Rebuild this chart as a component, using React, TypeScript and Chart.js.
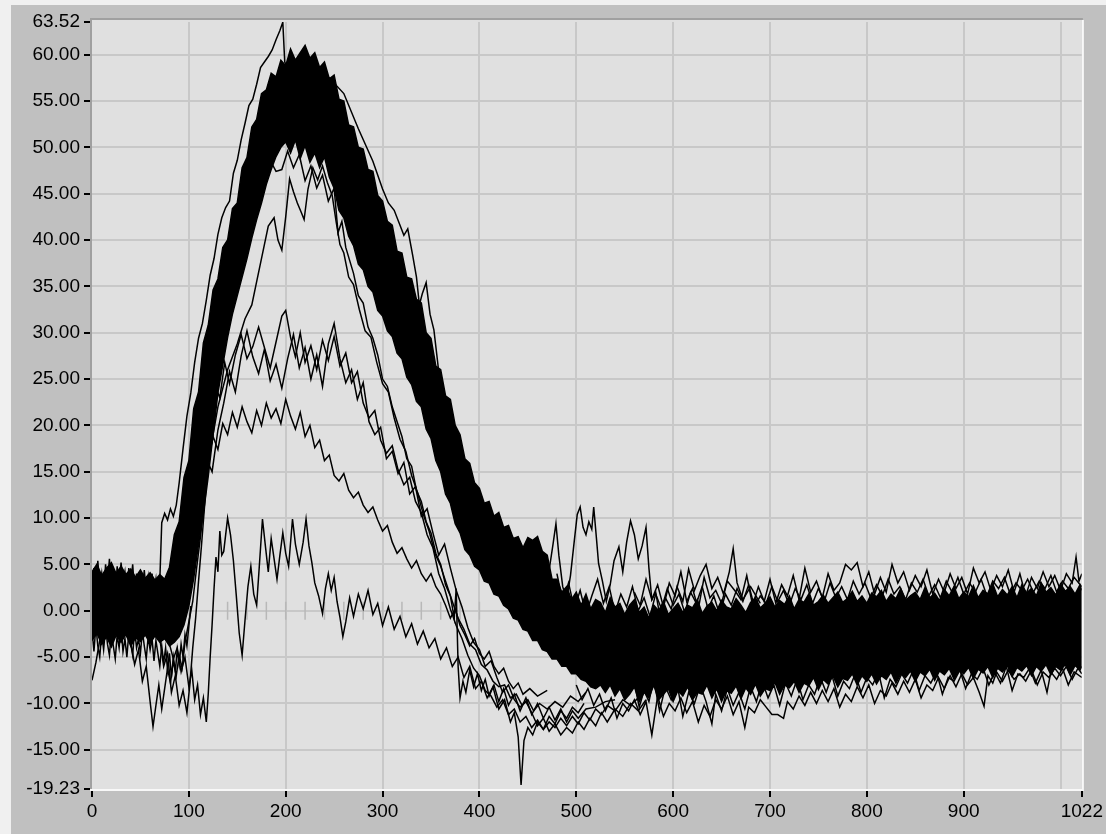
import { useEffect, useRef } from 'react';
import { Chart, registerables } from 'chart.js';

Chart.register(...registerables);

// ---------- axis ticks ----------
const xTickValues = [0, 100, 200, 300, 400, 500, 600, 700, 800, 900, 1000, 1022];
const yTickValues = [-19.23, -15, -10, -5, 0, 5, 10, 15, 20, 25, 30, 35, 40, 45, 50, 55, 60, 63.52];

// ---------- dense bundle of waveforms (upper / lower edge of the black mass) ----------
const bandX = [
  0, 5, 10, 15, 20, 25, 30, 35, 40, 45, 50, 55, 60, 65, 70, 75, 80, 85, 90, 95,
  100, 105, 110, 115, 120, 125, 130, 135, 140, 145, 150, 155, 160, 165, 170, 175, 180, 185, 190, 195,
  200, 205, 210, 215, 220, 225, 230, 235, 240, 245, 250, 255, 260, 265, 270, 275, 280, 285, 290, 295,
  300, 305, 310, 315, 320, 325, 330, 335, 340, 345, 350, 355, 360, 365, 370, 375, 380, 385, 390, 395,
  400, 405, 410, 415, 420, 425, 430, 435, 440, 445, 450, 455, 460, 465, 470, 475, 480, 485, 490, 495,
  500, 505, 510, 515, 520, 525, 530, 535, 540, 545, 550, 555, 560, 565, 570, 575, 580, 585, 590, 595,
  600, 605, 610, 615, 620, 625, 630, 635, 640, 645, 650, 655, 660, 665, 670, 675, 680, 685, 690, 695,
  700, 705, 710, 715, 720, 725, 730, 735, 740, 745, 750, 755, 760, 765, 770, 775, 780, 785, 790, 795,
  800, 805, 810, 815, 820, 825, 830, 835, 840, 845, 850, 855, 860, 865, 870, 875, 880, 885, 890, 895,
  900, 905, 910, 915, 920, 925, 930, 935, 940, 945, 950, 955, 960, 965, 970, 975, 980, 985, 990, 995,
  1000, 1005, 1010, 1015, 1020, 1022,
];
const bandHigh = [
  4.2, 5.0, 3.8, 4.6, 5.2, 4.0, 4.8, 3.9, 4.5, 3.6, 4.4, 3.5, 4.1, 3.3, 3.9, 3.4, 4.7, 8.2, 9.6, 14.4,
  16.2, 21.8, 23.6, 28.9, 30.8, 34.6, 35.8, 39.2, 40.0, 43.4, 44.0, 47.8, 48.9, 52.2, 53.0, 55.8, 56.2, 58.0, 57.6, 59.4,
  58.8, 60.6, 59.4, 60.2, 61.0, 59.6, 60.2, 58.6, 59.2, 57.4, 57.8, 55.2, 55.0, 52.4, 52.2, 50.0, 49.8, 47.6, 47.4, 44.8,
  44.2, 42.0, 41.6, 38.8, 38.6, 36.0, 35.8, 33.6, 33.2, 30.0, 29.4, 26.4, 26.0, 23.2, 22.8, 20.0, 19.0, 16.4, 15.9, 13.8,
  13.2, 11.6, 11.8, 10.2, 10.6, 9.0, 9.2, 7.8, 8.0, 6.8, 7.9, 7.6, 8.0, 6.4, 6.0, 3.4, 3.4, 2.0, 2.6, 1.2,
  2.0, 0.6, 1.8, 0.2, 1.2, 0.9, -0.2, 1.4, 0.4, 0.8, -0.4, 0.6, 1.2, -0.2, 0.4, -0.8, 0.6, 0.0, 1.0, -0.4,
  0.2, 0.8, -0.2, 0.6, 0.3, 1.2, -0.3, 0.5, 0.9, 0.0, 1.1, 0.4, 0.2, 1.3, 0.6, -0.2, 0.9, 1.4, 0.3, 0.8,
  1.5, 0.4, 1.1, 0.7, 1.6, 0.2, 1.2, 0.9, 1.8, 0.6, 1.0, 1.7, 0.8, 1.4, 2.0, 0.9, 1.3, 2.1, 1.0, 1.6,
  0.8, 1.9, 1.5, 2.2, 1.0, 1.8, 1.3, 2.4, 1.1, 1.6, 2.0, 1.2, 2.5, 1.4, 1.9, 1.1, 2.3, 1.6, 2.6, 1.3,
  2.0, 1.5, 2.7, 1.4, 2.2, 1.8, 2.9, 1.5, 2.3, 1.7, 2.6, 1.4, 2.8, 1.9, 2.4, 1.6, 3.0, 2.0, 2.5, 1.7,
  2.9, 2.1, 2.6, 1.8, 2.8, 2.2,
];
const bandLow = [
  -3.2, -2.4, -3.6, -2.8, -3.9, -2.6, -3.4, -2.5, -3.8, -2.9, -3.3, -2.6, -3.5, -2.7, -3.4, -3.0, -3.8, -3.4, -2.8, -1.5,
  0.5, 3.5, 7.2, 10.5, 14.5, 19.0, 23.5, 26.5, 29.5, 32.0, 34.0, 36.0, 38.0, 40.2, 42.2, 44.0, 46.0, 47.6, 49.0, 50.0,
  50.6, 49.4, 50.8, 48.8, 50.2, 48.4, 49.4, 47.8, 49.0, 46.8, 45.6, 43.2, 42.4, 40.4, 39.4, 37.4, 36.8, 35.0, 34.4, 32.4,
  31.8, 30.2, 29.6, 27.8, 27.2, 25.2, 24.4, 22.6, 22.0, 19.6, 18.6, 16.2, 15.0, 12.6, 11.6, 9.4, 8.4, 6.6, 6.0, 4.8,
  4.4, 3.2, 3.0, 1.8, 1.6, 0.6, 0.2, -0.8, -1.0, -2.0, -2.2, -3.2, -3.2, -4.2, -4.4, -5.2, -5.2, -6.0, -6.0, -6.8,
  -6.8, -7.4, -7.6, -8.2, -8.4, -8.0, -8.8, -8.0, -9.2, -8.4, -9.6, -9.0, -8.2, -9.8, -8.8, -9.4, -8.0, -9.6, -9.0, -8.4,
  -9.8, -8.6, -9.2, -8.2, -9.6, -8.8, -9.0, -8.0, -9.4, -8.4, -9.8, -8.6, -8.9, -8.1, -9.5, -8.3, -9.0, -7.9, -9.2, -8.4,
  -8.6, -7.7, -9.0, -8.0, -8.3, -7.6, -8.8, -7.8, -8.1, -7.2, -8.5, -7.4, -7.9, -7.0, -8.2, -7.3, -7.5, -6.8, -8.0, -7.0,
  -7.6, -6.8, -7.9, -7.0, -7.4, -6.6, -7.8, -6.8, -7.2, -6.5, -7.6, -6.6, -7.0, -6.3, -7.5, -6.5, -6.9, -6.2, -7.4, -6.4,
  -6.8, -6.1, -7.3, -6.3, -6.7, -6.0, -7.2, -6.2, -6.6, -5.9, -7.1, -6.1, -6.5, -5.9, -7.0, -6.0, -6.5, -5.8, -6.9, -6.0,
  -6.4, -5.8, -6.9, -5.9, -6.4, -6.0,
];

// ---------- individual traces that leave the bundle ----------
const traceEarlySpike = [
  [0, 1.5], [5, 3.2], [10, 0.8], [15, 2.5], [20, -0.5], [25, 1.8], [30, 0.4], [35, 2.6], [40, -0.8], [45, 1.2],
  [50, 0.0], [55, 2.2], [60, 0.6], [65, 1.4], [70, 3.2], [72, 9.5], [75, 10.5], [78, 9.8], [81, 11.0], [84, 10.2],
  [87, 11.4], [90, 13.8], [94, 17.5], [98, 21.0], [102, 23.5], [106, 26.8], [110, 29.4], [114, 31.0], [118, 33.5],
  [122, 36.2], [126, 38.0], [130, 40.6], [134, 42.4], [138, 43.5], [142, 44.2], [146, 47.2], [150, 48.6], [154, 50.8],
  [158, 52.6], [162, 54.5], [166, 55.2], [170, 56.8], [174, 58.6], [178, 59.2], [182, 59.8], [186, 60.5], [190, 61.6],
  [194, 62.6], [197, 63.5], [199, 59.2], [203, 58.4], [215, 59.0], [230, 58.0], [245, 57.5], [260, 55.8], [275, 52.0],
  [290, 48.5], [300, 45.5], [306, 44.0], [312, 43.2], [318, 41.6], [322, 40.5], [326, 41.2], [331, 38.4], [335, 36.0],
  [338, 33.0], [341, 34.2], [345, 35.4], [349, 32.0], [353, 30.3], [356, 27.6], [359, 24.9], [363, 23.0], [366, 22.0],
  [369, 20.6], [373, 19.4], [377, 17.6], [380, 18.2], [384, 15.8], [388, 14.4], [392, 13.0], [400, 11.0],
];
const tracePeak46 = [
  [90, -2.0], [100, 3.0], [110, 9.0], [120, 16.0], [130, 22.0], [140, 26.0], [150, 28.8], [158, 31.5], [165, 33.0],
  [170, 35.5], [176, 38.5], [182, 41.5], [188, 42.4], [192, 40.0], [196, 38.9], [200, 42.5], [204, 46.6], [208, 45.2],
  [212, 44.0], [216, 43.0], [219, 42.2], [223, 45.5], [228, 47.8], [233, 46.5], [238, 48.0], [243, 46.2], [248, 44.8],
  [252, 42.0], [256, 39.5], [260, 38.6], [265, 36.0], [270, 35.2], [276, 32.5], [282, 30.2], [288, 29.5], [294, 26.8],
  [300, 24.5], [306, 23.6], [312, 20.8], [318, 18.5], [324, 17.2], [330, 14.6], [336, 12.8], [342, 10.4], [348, 8.6],
  [354, 6.2], [360, 4.8], [366, 2.9], [372, 1.0], [378, -0.8], [384, -2.0], [390, -3.6], [396, -4.2], [402, -5.8],
  [408, -6.4], [414, -7.6], [420, -8.2], [426, -8.0], [432, -9.4], [438, -9.0], [444, -10.2], [450, -9.6], [456, -10.8],
  [462, -10.0], [470, -10.6], [478, -9.8], [486, -10.4], [494, -9.2], [502, -9.8], [510, -8.8],
];
const traceInnerFall = [
  [180, 47.0], [186, 48.2], [190, 47.4], [196, 47.6], [202, 49.6], [208, 47.8], [214, 49.2], [220, 46.4], [226, 48.0],
  [232, 45.6], [238, 47.0], [244, 44.2], [250, 45.6], [254, 40.8], [258, 42.0], [262, 39.2], [266, 37.8], [270, 36.4],
  [275, 34.0], [280, 33.2], [285, 30.6], [290, 29.4], [295, 27.6], [300, 25.0], [305, 24.2], [310, 22.0], [315, 20.4],
  [320, 18.8], [325, 16.4], [330, 15.6], [335, 13.0], [340, 11.8], [345, 9.6], [350, 8.4], [355, 6.2], [360, 5.0],
  [365, 2.8], [370, 1.6], [374, -0.8], [376, 2.4], [378, -6.0], [380, -9.4], [383, -7.6], [386, -8.8], [390, -6.4],
  [394, -8.2], [398, -6.8], [402, -8.6], [406, -7.4], [410, -9.2], [415, -8.0], [420, -9.8], [425, -8.4], [430, -10.2],
  [436, -9.0], [442, -10.8], [448, -9.4], [454, -11.2], [460, -10.0], [466, -11.6], [472, -10.4], [478, -11.8],
  [484, -10.6], [490, -12.0], [496, -10.8], [502, -11.6], [510, -10.6], [520, -10.4], [530, -9.8], [540, -9.6],
];
const tracePeak32a = [
  [105, 10.0], [110, 14.0], [115, 17.5], [120, 21.0], [126, 24.5], [132, 23.0], [137, 26.8], [142, 24.5], [148, 27.6],
  [154, 29.8], [160, 27.2], [166, 28.5], [172, 30.6], [178, 28.4], [184, 26.2], [190, 29.0], [196, 31.8], [200, 32.4],
  [205, 29.5], [210, 27.4], [215, 30.0], [220, 26.8], [226, 28.6], [232, 26.0], [238, 29.2], [244, 27.0], [250, 29.6],
  [256, 26.4], [262, 27.8], [268, 24.6], [274, 25.8], [280, 22.4], [286, 20.8], [292, 21.6], [298, 18.4], [304, 17.0],
  [310, 17.8], [316, 15.2], [322, 13.6], [328, 14.4], [334, 11.8], [340, 10.6], [346, 8.2], [352, 6.8], [358, 4.0],
  [364, 2.4], [370, 0.2], [376, -1.6], [382, -3.0], [388, -4.8], [394, -6.2], [400, -7.0], [406, -8.6], [412, -9.2],
  [418, -10.4], [424, -9.6], [430, -11.2], [436, -10.6], [442, -12.0], [448, -11.4], [454, -12.6], [460, -11.8],
  [466, -12.8], [472, -12.0], [478, -12.6], [484, -11.6], [490, -12.4], [496, -11.4], [502, -12.2], [508, -11.0],
  [514, -11.8], [520, -10.6], [526, -11.2], [532, -10.2], [540, -10.8], [548, -9.6], [556, -10.2], [564, -9.4],
];
const tracePeak32b = [
  [105, 6.0], [112, 12.0], [118, 16.4], [124, 15.0], [130, 19.5], [136, 22.4], [142, 25.8], [148, 23.6], [154, 27.5],
  [160, 30.2], [166, 27.4], [172, 25.6], [178, 28.2], [184, 24.8], [190, 26.6], [196, 24.0], [202, 27.2], [208, 29.8],
  [214, 26.2], [220, 28.4], [226, 25.0], [232, 27.6], [238, 24.2], [244, 28.8], [250, 31.0], [256, 27.2], [262, 24.6],
  [268, 26.0], [274, 22.8], [280, 24.6], [286, 20.4], [292, 19.0], [298, 19.8], [304, 16.4], [310, 17.2], [316, 14.8],
  [322, 16.0], [328, 12.6], [334, 13.4], [340, 10.2], [346, 11.0], [352, 8.4], [358, 6.0], [364, 7.2], [370, 4.6],
  [376, 2.2], [382, 0.4], [388, -1.8], [394, -3.4], [400, -4.2], [406, -6.0], [412, -5.4], [418, -7.2], [424, -8.8],
  [430, -8.0], [436, -9.6], [442, -10.4], [448, -9.8], [454, -11.0], [460, -12.4], [466, -11.6], [472, -13.0],
  [478, -12.2], [484, -13.4], [490, -12.6], [496, -13.2], [502, -12.0], [508, -12.8], [514, -11.6], [520, -12.4],
  [526, -11.0], [532, -12.0], [540, -10.6], [548, -11.4], [556, -10.0], [564, -10.8], [572, -9.6],
];
const tracePeak22 = [
  [70, -3.0], [74, -6.0], [78, -4.6], [82, -8.8], [86, -7.0], [90, -10.2], [94, -8.6], [98, -11.0], [101, -8.0],
  [104, -4.0], [107, -0.8], [110, 3.2], [113, 7.0], [116, 11.0], [120, 16.2], [125, 18.8], [130, 17.4], [135, 20.2],
  [140, 19.0], [145, 21.4], [150, 19.8], [155, 22.0], [160, 20.4], [165, 19.2], [170, 21.6], [175, 20.0], [180, 22.4],
  [185, 20.8], [190, 21.8], [195, 20.2], [200, 22.8], [205, 21.0], [210, 19.6], [215, 21.4], [220, 18.8], [225, 20.0],
  [230, 17.6], [235, 18.4], [240, 16.2], [245, 16.8], [250, 14.6], [255, 14.0], [260, 14.8], [265, 13.0], [270, 12.2],
  [275, 12.8], [280, 11.4], [285, 10.6], [290, 11.2], [295, 9.8], [300, 8.6], [305, 9.2], [310, 7.4], [315, 6.2],
  [320, 6.8], [325, 5.6], [330, 4.6], [335, 5.4], [340, 4.0], [345, 3.2], [350, 4.0], [355, 2.6], [360, 1.8],
  [365, 0.6], [370, -0.8], [375, 0.2], [380, -1.6], [385, -2.6], [390, -3.8], [395, -3.0], [400, -4.6], [405, -5.2],
  [410, -4.4], [415, -6.0], [420, -6.8], [425, -6.2], [430, -7.6], [435, -8.4], [440, -7.8], [445, -9.0], [452, -8.4],
  [460, -9.2], [470, -8.6],
];
const traceLow = [
  [80, -3.6], [84, -5.2], [88, -4.0], [92, -6.6], [96, -5.0], [100, -8.2], [103, -6.4], [106, -9.6], [109, -8.0],
  [112, -11.2], [115, -9.4], [118, -12.0], [120, -9.0], [122, -5.0], [124, -1.5], [126, 2.4], [128, 5.8], [130, 4.2],
  [132, 8.6], [134, 6.0], [136, 6.4], [140, 10.0], [143, 8.2], [146, 5.4], [149, 1.6], [152, -2.4], [155, -4.8],
  [158, -1.0], [161, 2.6], [164, 4.8], [167, 1.8], [170, 0.6], [173, 5.2], [176, 9.9], [179, 7.0], [182, 4.2],
  [185, 7.8], [188, 5.6], [191, 3.4], [194, 6.0], [197, 8.4], [200, 6.2], [203, 4.8], [207, 9.9], [210, 7.2],
  [214, 5.0], [218, 7.4], [221, 9.9], [224, 7.0], [227, 5.2], [230, 3.0], [234, 1.6], [238, -0.3], [241, 2.4],
  [244, 4.0], [247, 2.2], [250, 3.6], [253, 1.0], [256, -0.7], [259, -2.8], [262, -1.2], [266, 1.4], [270, -0.6],
  [275, 1.8], [280, 0.2], [285, 2.2], [290, -0.4], [295, 0.8], [300, -1.6], [306, 0.4], [312, -2.0], [318, -0.6],
  [324, -2.8], [330, -1.4], [336, -3.6], [342, -2.2], [348, -4.0], [354, -3.0], [360, -5.2], [366, -4.0], [372, -6.0],
  [378, -5.0], [384, -7.2], [390, -6.0], [396, -8.4], [402, -7.6], [408, -9.4], [414, -8.2], [420, -10.6], [426, -9.6],
  [432, -12.0], [436, -11.0], [440, -13.6], [443, -18.8], [446, -14.0], [450, -12.6], [455, -13.4], [460, -12.0],
  [466, -12.8], [472, -11.4], [478, -12.2], [484, -10.8], [490, -11.6], [496, -10.4], [502, -11.0], [508, -10.0],
];
const traceEarlyDip = [
  [0, -7.5], [4, -5.6], [8, -3.2], [12, -1.0], [20, -2.4], [30, -1.8], [40, -3.4], [44, -5.8], [48, -4.2], [52, -7.6],
  [56, -6.0], [60, -9.8], [63, -12.5], [66, -10.2], [69, -8.0], [72, -10.6], [75, -8.4], [78, -6.2], [81, -7.8],
  [84, -5.4], [87, -7.0], [90, -4.8], [93, -6.2], [96, -3.4], [100, -1.2], [104, 1.0], [108, 4.6], [112, 8.0],
  [116, 12.0], [120, 16.0],
];
const traceAfterBump = [
  [440, 4.0], [446, 1.8], [452, 3.6], [458, 6.0], [463, 3.2], [468, 0.8], [472, 4.4], [476, 7.2], [479, 9.4],
  [482, 6.0], [486, 2.6], [490, 1.2], [494, 3.8], [498, 7.6], [501, 10.4], [504, 11.2], [507, 9.0], [510, 8.2],
  [513, 9.6], [516, 8.8], [518, 11.2], [521, 7.6], [523, 5.1], [527, 3.2], [531, 1.0], [535, 2.8], [539, 5.4],
  [544, 6.9], [548, 4.2], [552, 7.4], [556, 9.7], [560, 8.2], [564, 5.6], [568, 7.0], [572, 9.0], [575, 4.6],
  [578, 1.2], [582, 2.0], [586, -0.4], [592, 1.4], [598, 0.2], [604, 2.6], [610, 1.0], [616, 4.5], [622, 2.2],
  [628, 3.8], [634, 5.0], [640, 2.4], [646, 3.6], [652, 1.8], [658, 4.2], [662, 6.7], [666, 3.0], [672, 1.2],
  [680, 2.6], [690, 0.8],
];
const traceTailHighA = [
  [560, 2.0], [566, 0.6], [572, 3.4], [578, 1.2], [584, 2.8], [590, 0.4], [596, 3.0], [602, 1.6], [608, 4.2],
  [614, 1.0], [620, 2.4], [626, 0.2], [632, 3.6], [638, 1.4], [644, 2.2], [650, 0.8], [656, 3.2], [662, 2.4],
  [665, 2.0], [670, 1.2], [676, 3.8], [682, 0.6], [688, 2.6], [694, 1.0], [700, 3.4], [706, 0.8], [712, 2.8],
  [718, 1.6], [724, 3.8], [730, 1.2], [736, 4.6], [742, 2.0], [748, 3.2], [754, 1.4], [760, 4.0], [766, 2.2],
  [772, 3.0], [778, 5.0], [784, 4.4], [790, 5.2], [796, 2.6], [802, 4.2], [808, 1.8], [814, 3.6], [820, 2.0],
  [826, 5.0], [832, 3.0], [838, 4.2], [844, 2.2], [850, 3.8], [856, 2.6], [862, 4.4], [868, 1.8], [874, 3.4],
  [880, 2.0], [886, 4.0], [892, 2.4], [898, 3.6], [904, 1.8], [910, 4.6], [916, 3.0], [922, 4.2], [928, 2.2],
  [934, 3.8], [940, 2.6], [946, 4.4], [952, 2.0], [958, 4.0], [964, 1.6], [970, 3.6], [976, 2.4], [982, 4.2],
  [988, 2.6], [994, 3.8], [1000, 2.2], [1006, 4.0], [1012, 3.0], [1016, 5.8], [1019, 3.2], [1022, 4.0],
];
const traceTailHighB = [
  [480, 4.0], [486, 1.0], [492, 3.0], [498, 0.2], [504, 2.2], [510, -0.4], [516, 1.6], [522, 3.4], [528, 0.8],
  [534, 2.6], [540, -0.2], [546, 1.8], [552, 0.4], [558, 2.6], [564, 0.0], [570, 1.4], [576, -0.6], [582, 1.8],
  [588, 0.2], [594, 2.4], [600, 0.6], [606, 1.8], [612, -0.2], [618, 2.0], [624, 0.8], [630, 2.6], [636, 0.2],
  [642, 1.6], [648, -0.4], [654, 1.8], [660, 0.6], [666, 2.4], [672, 1.0], [678, 2.8], [684, 0.4], [690, 1.6],
  [696, 0.8], [702, 2.6], [708, 1.0], [714, 2.2], [720, 0.6], [726, 2.4], [732, 1.2], [738, 2.8], [744, 0.8],
  [750, 2.4], [756, 1.0], [762, 3.0], [768, 1.4], [774, 2.6], [780, 1.2], [786, 3.2], [792, 1.8], [798, 3.0],
  [804, 1.4], [810, 2.8], [816, 1.6], [822, 3.4], [828, 1.8], [834, 2.6], [840, 1.2], [846, 3.0], [852, 2.0],
  [858, 3.4], [864, 1.6], [870, 2.8], [876, 1.4], [882, 3.2], [888, 2.0], [894, 3.6], [900, 1.8], [906, 3.0],
  [912, 2.0], [918, 3.4], [924, 1.6], [930, 3.2], [936, 2.4], [942, 3.6], [948, 1.8], [954, 3.0], [960, 2.2],
  [966, 3.4], [972, 2.0], [978, 3.2], [984, 2.4], [990, 3.8], [996, 2.0], [1002, 3.2], [1008, 2.4], [1014, 3.6],
  [1022, 2.6],
];
const traceTailLow = [
  [500, -8.0], [506, -9.6], [512, -8.4], [518, -10.2], [524, -9.0], [530, -10.8], [536, -9.4], [542, -11.6],
  [548, -10.0], [554, -10.8], [560, -9.6], [566, -11.2], [572, -9.8], [578, -13.4], [584, -9.2], [590, -11.4],
  [596, -10.0], [602, -10.8], [608, -9.4], [614, -11.0], [620, -9.8], [626, -12.0], [632, -10.2], [638, -11.4],
  [644, -9.6], [650, -10.6], [656, -9.2], [662, -11.2], [668, -9.8], [674, -12.6], [678, -10.4], [684, -11.0],
  [690, -9.6], [696, -10.4], [702, -11.2], [708, -11.2], [714, -11.6], [718, -9.8], [724, -10.6], [730, -9.2],
  [736, -10.2], [742, -8.8], [748, -10.0], [754, -8.6], [760, -9.8], [766, -8.4], [772, -10.4], [778, -9.0],
  [784, -9.8], [790, -8.2], [796, -9.4], [802, -8.0], [808, -10.0], [814, -8.6], [820, -9.2], [826, -7.8],
  [832, -9.0], [838, -7.6], [844, -8.8], [850, -7.4], [856, -9.4], [862, -8.0], [868, -8.6], [874, -7.2],
  [880, -8.4], [886, -7.0], [892, -8.2], [898, -6.8], [904, -8.0], [910, -7.2], [916, -8.8], [921, -10.3],
  [925, -7.0], [930, -7.8], [934, -6.6], [940, -7.6], [946, -6.4], [952, -7.4], [958, -6.8], [964, -7.6],
  [970, -6.4], [976, -8.0], [982, -6.6], [988, -7.2], [994, -6.2], [1000, -7.0], [1006, -6.0], [1012, -7.4],
  [1018, -6.2], [1022, -6.8],
];
const traceTailLowB = [
  [560, -7.8], [565, -10.4], [570, -8.6], [575, -9.8], [580, -7.4], [586, -10.8], [592, -8.2], [598, -9.6],
  [604, -7.8], [610, -11.4], [616, -8.8], [622, -10.0], [628, -8.0], [634, -9.8], [640, -12.2], [644, -9.0],
  [650, -10.8], [656, -8.4], [662, -10.2], [668, -8.8], [674, -10.6], [680, -8.2], [686, -9.8], [692, -7.6],
  [698, -9.4], [704, -8.0], [710, -10.2], [716, -7.8], [722, -9.2], [728, -7.4], [734, -9.6], [740, -8.0],
  [746, -9.0], [752, -7.2], [758, -8.8], [764, -7.0], [770, -9.2], [776, -7.6], [782, -8.4], [788, -6.8],
  [794, -8.8], [800, -7.2], [806, -8.0], [812, -6.6], [818, -9.4], [824, -7.4], [830, -8.2], [836, -6.8],
  [842, -7.8], [848, -6.4], [854, -8.6], [860, -7.0], [866, -7.8], [872, -6.6], [878, -9.0], [884, -7.2],
  [890, -7.6], [896, -6.4], [902, -8.4], [908, -6.8], [914, -7.4], [920, -6.2], [926, -8.0], [932, -6.6],
  [938, -7.8], [944, -6.0], [950, -8.6], [956, -6.8], [962, -7.2], [968, -6.2], [974, -7.8], [980, -6.4],
  [986, -8.8], [990, -6.6], [996, -7.4], [1002, -6.2], [1008, -8.0], [1014, -6.6], [1022, -7.2],
];
const traceBaseHigh = [
  [0, 2.0], [2, 4.6], [4, 1.8], [6, 5.4], [8, 2.6], [10, 4.0], [12, 1.4], [14, 5.0], [16, 3.0], [18, 5.6],
  [20, 2.2], [22, 4.4], [24, 1.6], [26, 4.8], [28, 2.4], [30, 5.2], [32, 3.0], [34, 4.2], [36, 1.8], [38, 4.6],
  [40, 2.8], [42, 5.0], [44, 2.0], [46, 4.0], [48, 1.4], [50, 3.8], [52, 2.4], [54, 4.4], [56, 1.8], [58, 3.6],
  [60, 1.2], [62, 4.0], [64, 2.0], [66, 3.4], [68, 1.0], [70, 3.6], [72, 1.8], [74, 3.2], [78, 2.0], [82, 5.0],
];
const traceBaseLow = [
  [0, -2.0], [2, -4.4], [4, -1.6], [6, -3.8], [8, -5.0], [10, -2.4], [12, -4.2], [14, -1.8], [16, -3.6], [18, -4.8],
  [20, -2.2], [22, -3.8], [24, -5.2], [26, -2.6], [28, -4.0], [30, -1.8], [32, -4.4], [34, -3.0], [36, -5.0],
  [38, -2.4], [40, -3.6], [42, -4.8], [44, -2.0], [46, -4.0], [48, -3.0], [50, -4.6], [52, -2.2], [54, -3.8],
  [56, -5.2], [58, -2.8], [60, -4.2], [62, -3.0], [64, -5.4], [66, -3.2], [68, -4.6], [70, -6.0], [72, -3.8],
  [74, -5.6], [76, -4.0], [78, -6.4], [80, -4.6], [82, -7.2], [84, -5.0], [86, -6.6], [88, -4.2], [90, -5.8],
  [92, -3.6], [94, -5.0], [96, -2.6], [98, -3.8], [102, 0.5],
];

// light marks lying on the zero line
const zeroMarkX = [140, 160, 180, 200, 220, 240, 260, 280, 300, 320, 340, 360, 380, 400];

const FONT = "'Liberation Sans', Arial, sans-serif";
const LINE_W = 1.5;

const toPoints = (arr: number[][]) => arr.map(([x, y]) => ({ x, y }));

export default function App() {
  const ref = useRef<HTMLCanvasElement | null>(null);

  useEffect(() => {
    const canvas = ref.current;
    if (!canvas) return;

    const thinTraces = [
      traceEarlySpike, tracePeak46, traceInnerFall, tracePeak32a, tracePeak32b, tracePeak22,
      traceLow, traceEarlyDip, traceAfterBump, traceTailHighA, traceTailHighB, traceTailLow,
      traceTailLowB, traceBaseHigh, traceBaseLow,
    ];

    const framePlugin = {
      id: 'labviewFrame',
      beforeDraw(chart: any) {
        const { ctx, chartArea: a, width, height } = chart;
        ctx.save();
        ctx.fillStyle = '#f0f0f0';
        ctx.fillRect(0, 0, width, height);
        ctx.fillStyle = '#c0c0c0';
        ctx.fillRect(11, 5, width - 11, height - 5);
        ctx.fillStyle = '#e0e0e0';
        ctx.fillRect(a.left, a.top - 2, a.right - a.left, a.bottom - a.top + 2);
        ctx.restore();
      },
      afterDraw(chart: any) {
        const { ctx, chartArea: a } = chart;
        ctx.save();
        ctx.lineWidth = 2;
        ctx.strokeStyle = '#a0a0a0';
        ctx.beginPath();
        ctx.moveTo(a.left - 1, a.bottom);
        ctx.lineTo(a.left - 1, a.top - 3);
        ctx.lineTo(a.right + 1, a.top - 3);
        ctx.stroke();
        ctx.strokeStyle = '#f8f8f8';
        ctx.beginPath();
        ctx.moveTo(a.right + 1, a.top - 2);
        ctx.lineTo(a.right + 1, a.bottom + 1);
        ctx.lineTo(a.left - 2, a.bottom + 1);
        ctx.stroke();
        ctx.restore();
      },
    };

    const datasets: any[] = [];
    thinTraces.forEach((t) => {
      datasets.push({
        data: toPoints(t),
        borderColor: '#000',
        borderWidth: LINE_W,
        pointRadius: 0,
        fill: false,
        tension: 0,
        order: 1,
      });
    });
    datasets.push({
      data: bandX.map((x, i) => ({ x, y: bandHigh[i] })),
      borderColor: '#000',
      backgroundColor: '#000',
      borderWidth: LINE_W,
      pointRadius: 0,
      tension: 0,
      fill: '+1',
      order: 2,
    });
    datasets.push({
      data: bandX.map((x, i) => ({ x, y: bandLow[i] })),
      borderColor: '#000',
      borderWidth: LINE_W,
      pointRadius: 0,
      tension: 0,
      fill: false,
      order: 2,
    });
    datasets.push({
      data: zeroMarkX.map((x) => ({ x, y: 0 })),
      showLine: false,
      pointStyle: 'line',
      rotation: 90,
      pointRadius: 9,
      pointBorderColor: '#b8b8b8',
      pointBorderWidth: 1.5,
      order: 5,
    });

    const chart = new Chart(canvas, {
      type: 'line',
      data: { datasets },
      plugins: [framePlugin],
      options: {
        animation: false,
        responsive: false,
        devicePixelRatio: 1,
        layout: { padding: { top: 22, right: 23, bottom: 0, left: 0 } },
        plugins: { legend: { display: false }, tooltip: { enabled: false } },
        scales: {
          x: {
            type: 'linear',
            min: 0,
            max: 1022,
            afterBuildTicks: (s: any) => {
              s.ticks = xTickValues.map((v) => ({ value: v }));
            },
            afterFit: (s: any) => {
              s.height = 45;
            },
            border: { display: false },
            grid: {
              color: (c: any) => (c.tick && (c.tick.value === 0 || c.tick.value === 1022) ? 'rgba(0,0,0,0)' : '#c8c8c8'),
              tickColor: (c: any) => (c.tick && c.tick.value === 1000 ? 'rgba(0,0,0,0)' : '#000'),
              tickLength: 8,
              lineWidth: 2,
              tickWidth: 2,
            },
            ticks: {
              autoSkip: false,
              maxRotation: 0,
              padding: 3,
              color: '#000',
              font: { family: FONT, size: 19 },
              callback: (v: any) => (v === 1000 ? '' : String(v)),
            },
          },
          y: {
            type: 'linear',
            min: -19.23,
            max: 63.52,
            afterBuildTicks: (s: any) => {
              s.ticks = yTickValues.map((v) => ({ value: v }));
            },
            afterFit: (s: any) => {
              s.width = 92;
            },
            border: { display: false },
            grid: {
              color: (c: any) =>
                c.tick && (c.tick.value === 63.52 || c.tick.value === -19.23) ? 'rgba(0,0,0,0)' : '#c8c8c8',
              tickColor: '#000',
              tickLength: 8,
              lineWidth: 2,
              tickWidth: 2,
            },
            ticks: {
              padding: 4,
              color: '#000',
              font: { family: FONT, size: 19 },
              callback: (v: any) => Number(v).toFixed(2),
            },
          },
        },
      },
    });
    return () => chart.destroy();
  }, []);

  return (
    <div style={{ position: 'fixed', left: 0, top: 0, width: 1106, height: 834 }}>
      <canvas ref={ref} width={1106} height={834} style={{ display: 'block' }} />
    </div>
  );
}
